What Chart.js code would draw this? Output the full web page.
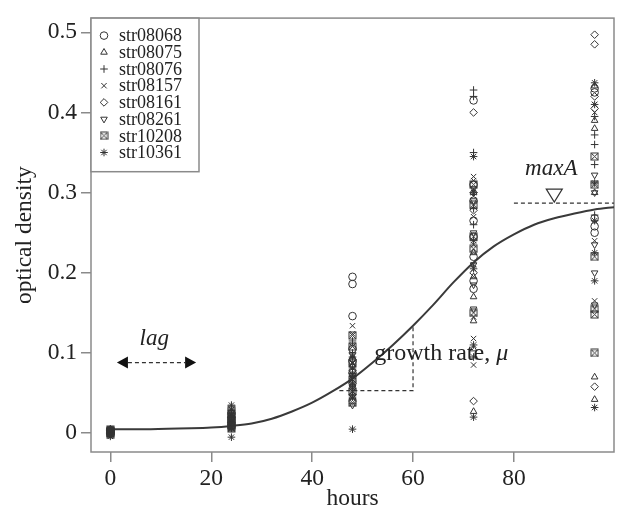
<!DOCTYPE html>
<html>
<head>
<meta charset="utf-8">
<script src="https://cdn.jsdelivr.net/npm/chart.js@4.4.1/dist/chart.umd.min.js"></script>
<style>
  html, body { margin: 0; padding: 0; background: #fff; }
</style>
</head>
<body>
<canvas id="growth" width="619" height="513"></canvas>
<script>
// sampling times (h) and strains
const hours = [0, 24, 48, 72, 96];
const strains = ['str08068', 'str08075', 'str08076', 'str08157', 'str08161', 'str08261', 'str10208', 'str10361'];

// optical density replicates, one inner array per sampling time
const od08068 = [[0.002, 0.004, -0.001, 0.003, 0.001], [0.012, 0.020, 0.008, 0.016, 0.025], [0.195, 0.186, 0.146, 0.105, 0.090, 0.075], [0.415, 0.310, 0.290, 0.265, 0.245, 0.220, 0.190, 0.180], [0.430, 0.268, 0.258, 0.250, 0.425]];
const od08075 = [[0.001, 0.003, 0.000, 0.004, -0.002], [0.010, 0.015, 0.022, 0.005, 0.018], [0.070, 0.060, 0.085, 0.045, 0.095], [0.225, 0.195, 0.140, 0.105, 0.027, 0.300, 0.170], [0.433, 0.390, 0.380, 0.300, 0.070, 0.042]];
const od08076 = [[0.003, 0.000, 0.002, 0.005, 0.001], [0.014, 0.009, 0.020, 0.028, 0.006], [0.080, 0.065, 0.100, 0.055, 0.115], [0.428, 0.420, 0.350, 0.280, 0.260], [0.372, 0.335, 0.272, 0.360, 0.395]];
const od08157 = [[0.002, -0.001, 0.004, 0.001, 0.003], [0.011, 0.017, 0.024, 0.007, 0.013], [0.134, 0.124, 0.110, 0.088, 0.070, 0.050], [0.320, 0.315, 0.235, 0.210, 0.145, 0.118, 0.085, 0.270], [0.400, 0.240, 0.165, 0.410]];
const od08161 = [[0.001, 0.003, 0.000, 0.002, 0.004], [0.013, 0.019, 0.008, 0.023, 0.011], [0.078, 0.062, 0.092, 0.048, 0.040], [0.400, 0.278, 0.200, 0.040, 0.300], [0.497, 0.485, 0.420, 0.405, 0.058]];
const od08261 = [[0.002, 0.000, 0.004, -0.001, 0.003], [0.012, 0.018, 0.026, 0.009, 0.015], [0.083, 0.072, 0.058, 0.098, 0.035], [0.155, 0.290, 0.250, 0.210, 0.305, 0.185], [0.322, 0.235, 0.200, 0.160, 0.300]];
const od10208 = [[0.001, 0.003, -0.002, 0.002, 0.004], [0.010, 0.016, 0.021, 0.006, 0.029], [0.122, 0.108, 0.087, 0.067, 0.052, 0.038], [0.245, 0.150, 0.230, 0.285, 0.310], [0.345, 0.220, 0.155, 0.148, 0.100, 0.310]];
const od10361 = [[-0.004, 0.002, 0.005, 0.001, -0.001], [0.035, -0.005, 0.014, 0.022, 0.030], [0.005, 0.075, 0.095, 0.060, 0.045], [0.345, 0.240, 0.205, 0.110, 0.095, 0.020, 0.300], [0.437, 0.410, 0.312, 0.265, 0.225, 0.190, 0.032]];
const strainOD = [od08068, od08075, od08076, od08157, od08161, od08261, od10208, od10361];

// fitted growth curve
const curveHours = [0, 8, 16, 20, 24, 28, 32, 36, 40, 44, 48, 52, 56, 60, 64, 68, 72, 76, 80, 84, 88, 92, 96, 100];
const curveOD = [0.005, 0.005, 0.006, 0.007, 0.009, 0.012, 0.018, 0.027, 0.038, 0.052, 0.068, 0.088, 0.110, 0.134, 0.160, 0.188, 0.213, 0.233, 0.248, 0.260, 0.268, 0.274, 0.279, 0.282];

// axis ticks
const xTicks = [0, 20, 40, 60, 80];
const yTicks = [0, 0.1, 0.2, 0.3, 0.4, 0.5];

// growth parameters marked on the plot
const lagSpan = [1.3, 17];
const lagLevel = 0.088;
const slopeFrom = [45.4, 0.053];
const slopeTo = [60, 0.134];
const maxA = 0.287;
const maxAHour = 88;

const ink = '#333';
const frame = '#8a8a8a';
const serif = '"Liberation Serif", "DejaVu Serif", serif';

// boxed x symbol (R pch 7) as a small canvas
function boxX(r) {
  const c = document.createElement('canvas');
  const s = Math.ceil(r * 2) + 2;
  c.width = s; c.height = s;
  const g = c.getContext('2d');
  g.strokeStyle = ink;
  g.lineWidth = 1;
  g.strokeRect(1, 1, s - 2, s - 2);
  g.beginPath();
  g.moveTo(1, 1); g.lineTo(s - 1, s - 1);
  g.moveTo(s - 1, 1); g.lineTo(1, s - 1);
  g.stroke();
  return c;
}

const ptRadius = 3.8;
const symbols = [
  { style: 'circle', rot: 0 },
  { style: 'triangle', rot: 0 },
  { style: 'cross', rot: 0 },
  { style: 'crossRot', rot: 0 },
  { style: 'rectRot', rot: 0 },
  { style: 'triangle', rot: 180 },
  { style: boxX(3.5), rot: 0 },
  { style: 'star', rot: 0 }
];

const datasets = strains.map((name, i) => ({
  type: 'scatter',
  label: name,
  data: hours.flatMap((h, t) => strainOD[i][t].map(v => ({ x: h, y: v }))),
  pointStyle: symbols[i].style,
  rotation: symbols[i].rot,
  pointRadius: ptRadius,
  pointBorderColor: ink,
  pointBackgroundColor: 'rgba(0,0,0,0)',
  pointBorderWidth: 1
}));

datasets.push({
  type: 'line',
  label: 'fit',
  data: curveHours.map((h, i) => ({ x: h, y: curveOD[i] })),
  borderColor: '#3a3a3a',
  borderWidth: 2,
  pointRadius: 0,
  cubicInterpolationMode: 'monotone',
  fill: false
});

// frame round the plotting region
const boxPlugin = {
  id: 'box',
  beforeDatasetsDraw(chart) {
    const a = chart.chartArea, ctx = chart.ctx;
    ctx.save();
    ctx.strokeStyle = frame;
    ctx.lineWidth = 1.5;
    ctx.strokeRect(a.left, a.top, a.right - a.left, a.bottom - a.top);
    ctx.restore();
  }
};

// legend in the top-left corner
const legendPlugin = {
  id: 'cornerLegend',
  afterDatasetsDraw(chart) {
    const a = chart.chartArea, ctx = chart.ctx;
    const w = 108, rowH = 16.7, top = a.top;
    const h = rowH * strains.length + 20;
    ctx.save();
    ctx.fillStyle = '#fff';
    ctx.fillRect(a.left, top, w, h);
    ctx.strokeStyle = frame;
    ctx.lineWidth = 1.5;
    ctx.strokeRect(a.left, top, w, h);
    ctx.font = '18px ' + serif;
    ctx.textBaseline = 'middle';
    strains.forEach((name, i) => {
      const y = top + 17.5 + i * rowH;
      ctx.strokeStyle = ink;
      ctx.fillStyle = 'rgba(0,0,0,0)';
      ctx.lineWidth = 1;
      Chart.helpers.drawPoint(ctx, { pointStyle: symbols[i].style, rotation: symbols[i].rot, radius: ptRadius, borderWidth: 1 }, a.left + 13, y);
      ctx.fillStyle = '#222';
      ctx.fillText(name, a.left + 28, y + 1);
    });
    ctx.restore();
  }
};

// lag, growth rate and maxA markings
const markPlugin = {
  id: 'marks',
  afterDatasetsDraw(chart) {
    const x = chart.scales.x, y = chart.scales.y, ctx = chart.ctx;
    ctx.save();
    ctx.strokeStyle = ink;
    ctx.fillStyle = '#222';
    ctx.lineWidth = 1.2;
    ctx.setLineDash([4, 3]);

    // lag arrow
    const lx0 = x.getPixelForValue(lagSpan[0]), lx1 = x.getPixelForValue(lagSpan[1]);
    const ly = y.getPixelForValue(lagLevel);
    const head = 11;
    ctx.beginPath();
    ctx.moveTo(lx0 + head, ly); ctx.lineTo(lx1 - head, ly);
    ctx.stroke();

    // growth rate triangle
    const gx0 = x.getPixelForValue(slopeFrom[0]), gy0 = y.getPixelForValue(slopeFrom[1]);
    const gx1 = x.getPixelForValue(slopeTo[0]), gy1 = y.getPixelForValue(slopeTo[1]);
    ctx.beginPath();
    ctx.moveTo(gx0, gy0); ctx.lineTo(gx1, gy0); ctx.lineTo(gx1, gy1);
    ctx.stroke();

    // maxA level
    const my = y.getPixelForValue(maxA);
    ctx.beginPath();
    ctx.moveTo(x.getPixelForValue(80), my); ctx.lineTo(chart.chartArea.right, my);
    ctx.stroke();
    ctx.setLineDash([]);

    // arrow heads
    ctx.fillStyle = '#111';
    ctx.beginPath();
    ctx.moveTo(lx0, ly); ctx.lineTo(lx0 + head, ly - 6); ctx.lineTo(lx0 + head, ly + 6); ctx.closePath();
    ctx.moveTo(lx1, ly); ctx.lineTo(lx1 - head, ly - 6); ctx.lineTo(lx1 - head, ly + 6); ctx.closePath();
    ctx.fill();

    // maxA marker
    const mx = x.getPixelForValue(maxAHour);
    ctx.lineWidth = 1.2;
    ctx.beginPath();
    ctx.moveTo(mx - 8, my - 14); ctx.lineTo(mx + 8, my - 14); ctx.lineTo(mx, my - 1); ctx.closePath();
    ctx.stroke();

    // labels
    ctx.fillStyle = '#222';
    ctx.textBaseline = 'alphabetic';
    ctx.textAlign = 'center';
    ctx.font = 'italic 23px ' + serif;
    ctx.fillText('lag', x.getPixelForValue(8.7), y.getPixelForValue(0.11));
    ctx.fillText('maxA', x.getPixelForValue(87.4), y.getPixelForValue(0.322));
    ctx.textAlign = 'left';
    ctx.font = '24px ' + serif;
    const tx = x.getPixelForValue(52.3), ty = y.getPixelForValue(0.091);
    const lead = 'growth rate, ';
    ctx.fillText(lead, tx, ty);
    const lw = ctx.measureText(lead).width;
    ctx.font = 'italic 24px ' + serif;
    ctx.fillText('\u03bc', tx + lw, ty);
    ctx.restore();
  }
};

new Chart(document.getElementById('growth'), {
  data: { datasets },
  options: {
    responsive: false,
    animation: false,
    layout: { padding: { top: 15, right: 1, left: 0, bottom: 0 } },
    plugins: { legend: { display: false }, tooltip: { enabled: false } },
    scales: {
      x: {
        type: 'linear',
        min: -3.84,
        max: 99.84,
        afterFit: s => { s.height = 61; },
        afterBuildTicks: s => { s.ticks = xTicks.map(v => ({ value: v })); },
        border: { display: false },
        grid: { drawOnChartArea: false, tickLength: 10, color: frame, lineWidth: 1.5 },
        ticks: { color: '#222', font: { family: serif, size: 23.5 }, padding: 3, maxRotation: 0 },
        title: { display: true, text: 'hours', color: '#222', font: { family: serif, size: 23.5 }, padding: { top: -1, bottom: 0 } }
      },
      y: {
        type: 'linear',
        min: -0.0235,
        max: 0.5177,
        afterFit: s => { s.width = 91; },
        afterBuildTicks: s => { s.ticks = yTicks.map(v => ({ value: v })); },
        border: { display: false },
        grid: { drawOnChartArea: false, tickLength: 10, color: frame, lineWidth: 1.5 },
        ticks: { color: '#222', font: { family: serif, size: 23.5 }, padding: 4, callback: v => String(v) },
        title: { display: true, text: 'optical density', color: '#222', font: { family: serif, size: 23.5 }, padding: { top: 11, bottom: 0 } }
      }
    }
  },
  plugins: [boxPlugin, markPlugin, legendPlugin]
});
</script>
</body>
</html>
